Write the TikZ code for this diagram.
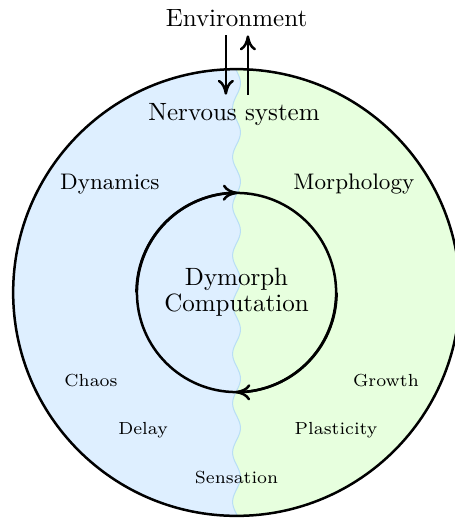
\documentclass[tikz,border=0pt]{standalone}
\usetikzlibrary{positioning,arrows.meta}
\definecolor{dynblue}{RGB}{222,239,255}
\definecolor{morphgreen}{RGB}{231,255,222}
\definecolor{seamblue}{RGB}{185,222,245}

\begin{document}
\begin{tikzpicture}[
    rim/.style={line width=1pt},
    flow/.style={line width=1pt,-{To[length=6pt,width=6.5pt]}},
    mid/.style={font=\small},
    sub/.style={font=\scriptsize}]
    \useasboundingbox (-3.325,-3.198) rectangle (3.058,4.112);

    % two halves of the body
    \begin{scope}
        \clip (0,0) circle (3.14);
        \fill[morphgreen] (-3.3,-3.3) rectangle (3.3,3.3);
        \fill[dynblue] (-3.3,-3.3) -- plot[domain=-3.3:3.3,samples=200,variable=\t] ({0.055*sin(\t*520)},\t) -- (-3.3,3.3) -- cycle;
        \draw[seamblue,thin] plot[domain=-3.3:3.3,samples=200,variable=\t] ({0.055*sin(\t*520)},\t);
    \end{scope}
    \draw[rim] (0,0) circle (3.14);

    \node (env) at (0,3.86) {Environment};
    \node (ns) at (-0.035,2.5) {Nervous system};
    \node[mid] (dyn) at (-1.78,1.525) {Dynamics};
    \node[mid] (morph) at (1.65,1.525) {Morphology};
    \node[circle,minimum size=2.8cm,align=center] (core) at (0,0) {Dymorph\\[-1.6pt]Computation};
    \node[sub] (chaos) at (-2.045,-1.244) {Chaos};
    \node[sub] (growth) at (2.10,-1.244) {Growth};
    \node[sub] (delay) at (-1.314,-1.933) {Delay};
    \node[sub] (plast) at (1.40,-1.933) {Plasticity};
    \node[sub] (sens) at (0,-2.594) {Sensation};

    % in and out
    \coordinate (inlet) at (-0.15,0);
    \coordinate (outlet) at (0.16,0);
    \draw[flow] (env.south -| inlet) -- (ns.north -| inlet);
    \draw[flow] (ns.north -| outlet) -- (env.south -| outlet);

    % the loop
    \draw[rim] (core.center) circle (1.4);
    \draw[flow] (core.west) arc (180:89:1.4);
    \draw[flow] (core.east) arc (0:-91:1.4);
\end{tikzpicture}
\end{document}
